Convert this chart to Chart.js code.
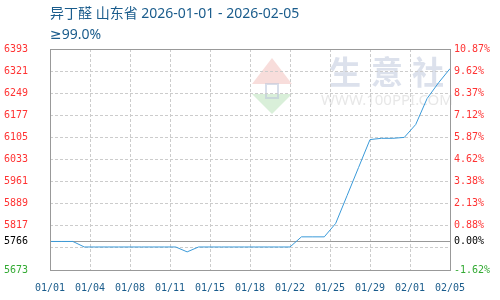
<!DOCTYPE html>
<html>
<head>
<meta charset="utf-8">
<script src="https://cdn.jsdelivr.net/npm/chart.js@4"></script>
<style>
  html, body { margin: 0; padding: 0; background: #fff; }
  #wrap { width: 500px; height: 300px; }
</style>
</head>
<body>
<div id="wrap"><canvas id="priceChart" width="500" height="300"></canvas></div>
<script>
// 异丁醛 山东省 daily price, 2026-01-01 .. 2026-02-05
const titleText = '异丁醛 山东省 2026-01-01 - 2026-02-05';
const subTitle = '≥99.0%';
const baseValue = 5766;
const prices = [5766, 5766, 5766, 5748, 5748, 5748, 5748, 5748, 5748, 5748, 5748, 5748,
  5732, 5748, 5748, 5748, 5748, 5748, 5748, 5748, 5748, 5748, 5781, 5781, 5781,
  5825, 5916, 6007, 6098, 6102, 6102, 6105, 6147, 6232, 6283, 6329];
const xTickLabels = ['01/01', '01/04', '01/08', '01/11', '01/15', '01/18', '01/22', '01/25', '01/29', '02/01', '02/05'];
const yTicks = [6393, 6321, 6249, 6177, 6105, 6033, 5961, 5889, 5817, 5766, 5745, 5673];
const yTickLabels = ['6393', '6321', '6249', '6177', '6105', '6033', '5961', '5889', '5817', '5766', '', '5673'];
const pctTickLabels = ['10.87%', '9.62%', '8.37%', '7.12%', '5.87%', '4.62%', '3.38%', '2.13%', '0.88%', '0.00%', '', '-1.62%'];

const RED = '#ff3333', GREEN = '#33aa33', BLUE_TXT = '#1a5c8c';
const tickFont = { family: 'DejaVu Sans Mono', size: 10 };

function tickColor(ctx) {
  const v = ctx.tick.value;
  if (v > baseValue) return RED;
  if (v < baseValue) return GREEN;
  return '#000';
}

function yIndex(v) {
  return yTicks.indexOf(v);
}

// title, watermark and frame
const decoPlugin = {
  id: 'deco',
  beforeDraw(chart) {
    const ctx = chart.ctx;
    ctx.save();
    // watermark logo
    ctx.fillStyle = 'rgba(240,180,175,0.45)';
    ctx.beginPath();
    ctx.moveTo(272, 58); ctx.lineTo(252, 84); ctx.lineTo(292, 84); ctx.closePath(); ctx.fill();
    ctx.fillStyle = 'rgba(170,220,170,0.45)';
    ctx.beginPath();
    ctx.moveTo(252, 94); ctx.lineTo(292, 94); ctx.lineTo(272, 114); ctx.closePath(); ctx.fill();
    ctx.strokeStyle = 'rgba(190,200,220,0.6)';
    ctx.lineWidth = 2;
    ctx.strokeRect(266, 84, 12, 14);
    // watermark text
    ctx.fillStyle = 'rgba(205,212,228,0.7)';
    ctx.font = 'bold 32px "Noto Sans CJK SC"';
    ctx.textBaseline = 'middle';
    ctx.textAlign = 'center';
    ctx.fillText('生', 345, 72);
    ctx.fillText('意', 387, 72);
    ctx.fillText('社', 428, 72);
    ctx.fillStyle = 'rgba(215,215,215,0.6)';
    ctx.font = '15px "Noto Sans"';
    ctx.fillText('WWW.100PPI.COM', 387, 101);
    ctx.restore();
  },
  afterDraw(chart) {
    const ctx = chart.ctx;
    const a = chart.chartArea;
    ctx.save();
    ctx.strokeStyle = '#999';
    ctx.lineWidth = 1;
    ctx.strokeRect(a.left + 0.5, a.top + 0.5, a.right - a.left, a.bottom - a.top);
    ctx.fillStyle = BLUE_TXT;
    ctx.textAlign = 'left';
    ctx.textBaseline = 'middle';
    ctx.font = '14px "Noto Sans", "DejaVu Sans", "Noto Sans CJK SC"';
    ctx.fillText(titleText, 50, 14);
    ctx.fillText(subTitle, 50, 35);
    ctx.restore();
  }
};

new Chart(document.getElementById('priceChart').getContext('2d'), {
  type: 'line',
  data: {
    datasets: [{
      data: prices.map((v, i) => ({ x: i, y: v })),
      borderColor: '#3a9ad9',
      borderWidth: 1,
      pointRadius: 0,
      tension: 0,
      fill: false
    }]
  },
  options: {
    responsive: false,
    animation: false,
    layout: { padding: { top: 49, bottom: 0, left: 0, right: 0 } },
    plugins: { legend: { display: false }, tooltip: { enabled: false } },
    scales: {
      x: {
        type: 'linear',
        min: 0,
        max: prices.length - 1,
        afterBuildTicks(scale) {
          scale.ticks = xTickLabels.map((l, i) => ({ value: i * 3.5 }));
        },
        afterFit(scale) { scale.height = 30; },
        ticks: {
          font: tickFont,
          color: BLUE_TXT,
          padding: 12,
          maxRotation: 0,
          autoSkip: false,
          callback: (v, i) => xTickLabels[i]
        },
        grid: { color: '#cccccc', drawTicks: false },
        border: { display: false, dash: [3, 2] }
      },
      y: {
        position: 'left',
        min: 5673,
        max: 6393,
        afterBuildTicks(scale) {
          scale.ticks = yTicks.map(v => ({ value: v }));
        },
        afterFit(scale) { scale.width = 50; },
        ticks: {
          font: tickFont,
          color: tickColor,
          padding: 22,
          autoSkip: false,
          callback: (v) => yTickLabels[yIndex(v)]
        },
        grid: {
          drawTicks: false,
          color: ctx => (ctx.tick && ctx.tick.value === baseValue) ? '#999999' : '#cccccc'
        },
        border: {
          display: false,
          dash: ctx => (ctx.tick && ctx.tick.value === baseValue) ? [] : [3, 2]
        }
      },
      y2: {
        position: 'right',
        min: 5673,
        max: 6393,
        afterBuildTicks(scale) {
          scale.ticks = yTicks.map(v => ({ value: v }));
        },
        afterFit(scale) { scale.width = 50; },
        ticks: {
          font: tickFont,
          color: tickColor,
          padding: 4,
          autoSkip: false,
          callback: (v) => pctTickLabels[yIndex(v)]
        },
        grid: { display: false, drawTicks: false },
        border: { display: false }
      }
    }
  },
  plugins: [decoPlugin]
});
</script>
</body>
</html>
